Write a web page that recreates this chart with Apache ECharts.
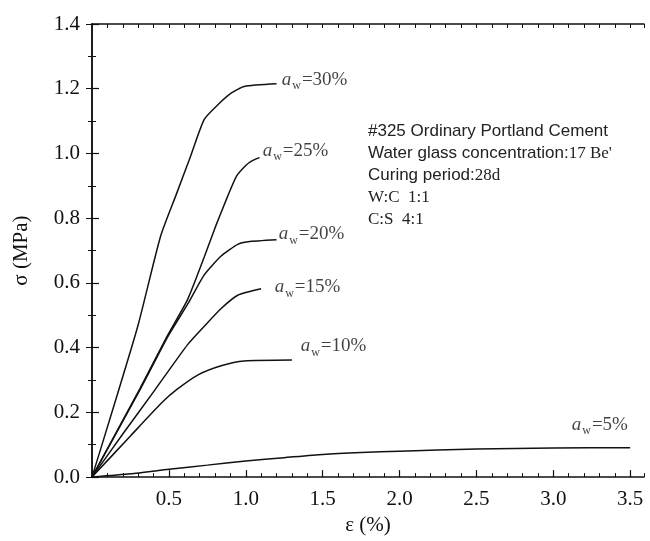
<!DOCTYPE html>
<html>
<head>
<meta charset="utf-8">
<script src="https://cdn.jsdelivr.net/npm/echarts@6/dist/echarts.min.js"></script>
<style>
  html, body { margin: 0; padding: 0; background: #fff; }
  #chart { width: 650px; height: 541px; }
</style>
</head>
<body>
<div id="chart"></div>
<script>
// stress-strain curves, [strain %, stress MPa]
var aw30 = [[0, 0], [0.15, 0.232], [0.3, 0.47], [0.446, 0.744], [0.547, 0.872], [0.64, 0.99], [0.73, 1.105], [0.82, 1.151], [0.907, 1.187], [0.99, 1.207], [1.2, 1.215]]
var aw25 = [[0, 0], [0.31, 0.272], [0.494, 0.44], [0.623, 0.55], [0.73, 0.68], [0.8, 0.77], [0.88, 0.865], [0.94, 0.93], [1.0, 0.963], [1.04, 0.977], [1.09, 0.987]]
var aw20 = [[0, 0], [0.31, 0.268], [0.494, 0.435], [0.623, 0.535], [0.73, 0.625], [0.84, 0.683], [0.948, 0.719], [1.015, 0.727], [1.2, 0.733]]
var aw15 = [[0, 0], [0.2, 0.133], [0.407, 0.268], [0.623, 0.41], [0.73, 0.466], [0.84, 0.521], [0.948, 0.562], [1.1, 0.582]]
var aw10 = [[0, 0], [0.25, 0.127], [0.45, 0.228], [0.55, 0.27], [0.69, 0.316], [0.84, 0.344], [0.99, 0.359], [1.3, 0.362]]
var aw5 = [[0, 0], [0.25, 0.01], [0.5, 0.024], [0.75, 0.037], [1.0, 0.05], [1.25, 0.06], [1.5, 0.07], [1.75, 0.076], [2.0, 0.08], [2.5, 0.087], [3.0, 0.09], [3.5, 0.091]]

var curveNames = ['30%', '25%', '20%', '15%', '10%', '5%']
var curveData = [aw30, aw25, aw20, aw15, aw10, aw5]
// where each a_w label starts (left-middle), in data units
var labelAt = [[1.234, 1.227], [1.11, 1.008], [1.214, 0.75], [1.188, 0.586], [1.357, 0.404], [3.12, 0.161]]

var serif = 'Liberation Serif'
var sans = 'Liberation Sans'
var black = '#111'

var chart = echarts.init(document.getElementById('chart'))

var series = curveData.map(function (d, i) {
  return {
    name: 'aw=' + curveNames[i],
    type: 'line',
    data: d,
    showSymbol: false,
    smooth: 0.2,
    lineStyle: { color: black, width: 1.5 },
    silent: true
  }
})
series.push({
  type: 'scatter',
  data: labelAt.map(function (p, i) { return { value: p, name: curveNames[i] } }),
  symbolSize: 0,
  silent: true,
  label: {
    show: true,
    position: 'right',
    distance: 0,
    formatter: function (p) { return '{a|a}{w|w}{t|=' + p.name + '}' },
    rich: {
      a: { fontFamily: serif, fontStyle: 'italic', fontSize: 19, color: black },
      w: { fontFamily: serif, fontSize: 12, color: black, verticalAlign: 'bottom', padding: [12, 1, 0, 1] },
      t: { fontFamily: serif, fontSize: 19, color: black }
    }
  }
})

var axisLine = { show: true, lineStyle: { color: black, width: 1.5 } }

option = {
  backgroundColor: '#fff',
  animation: false,
  grid: { left: 92, right: 6, top: 24, bottom: 57, show: false },
  xAxis: [
    {
      type: 'value', min: 0, max: 3.59, interval: 0.5,
      axisLine: axisLine,
      axisTick: { inside: true, length: 7, lineStyle: { color: black, width: 1.2 } },
      splitLine: { show: false },
      axisLabel: {
        showMaxLabel: false, margin: 12,
        fontFamily: serif, fontSize: 21, color: black,
        formatter: function (v) { return v === 0 ? '' : v.toFixed(1) }
      },
      name: 'ε (%)', nameLocation: 'middle', nameGap: 36,
      nameTextStyle: { fontFamily: serif, fontSize: 21, color: black }
    },
    {
      type: 'value', min: 0, max: 3.59, interval: 0.1, position: 'bottom',
      axisLine: { show: false },
      axisTick: { inside: true, length: 4, lineStyle: { color: black, width: 1 } },
      axisLabel: { show: false }, splitLine: { show: false }
    },
    {
      type: 'value', min: 0, max: 3.59, interval: 0.1, position: 'top',
      axisLine: axisLine,
      axisTick: { inside: true, length: 4, lineStyle: { color: black, width: 1 } },
      axisLabel: { show: false }, splitLine: { show: false }
    }
  ],
  yAxis: [
    {
      type: 'value', min: 0, max: 1.4, interval: 0.2,
      axisLine: axisLine,
      axisTick: { inside: true, length: 7, lineStyle: { color: black, width: 1.2 } },
      minorTick: { show: true, splitNumber: 2, length: 4, lineStyle: { color: black, width: 1 } },
      splitLine: { show: false }, minorSplitLine: { show: false },
      axisLabel: {
        margin: 12, fontFamily: serif, fontSize: 21, color: black,
        formatter: function (v) { return v.toFixed(1) }
      },
      name: 'σ (MPa)', nameLocation: 'middle', nameGap: 60,
      nameTextStyle: { fontFamily: serif, fontSize: 21, color: black }
    },
    {
      type: 'value', min: 0, max: 1.4, interval: 0.2, position: 'right',
      axisLine: axisLine,
      axisTick: { inside: true, length: 6, lineStyle: { color: black, width: 1 } },
      minorTick: { show: true, splitNumber: 2, length: 4, lineStyle: { color: black, width: 1 } },
      axisLabel: { show: false }, splitLine: { show: false }
    }
  ],
  graphic: [{
    type: 'text',
    left: 368, top: 123,
    silent: true,
    style: {
      text: [
        '{s|#325 Ordinary Portland Cement}',
        '{s|Water glass concentration:}{r|17 Be\'}',
        '{s|Curing period:}{r|28d}',
        '{r|W:C  1:1}',
        '{r|C:S  4:1}'
      ].join('\n'),
      rich: {
        s: { fontFamily: sans, fontSize: 17, lineHeight: 22, fill: '#222' },
        r: { fontFamily: serif, fontSize: 17, lineHeight: 22, fill: '#222' }
      }
    }
  }],
  series: series
}

chart.setOption(option)
</script>
</body>
</html>
